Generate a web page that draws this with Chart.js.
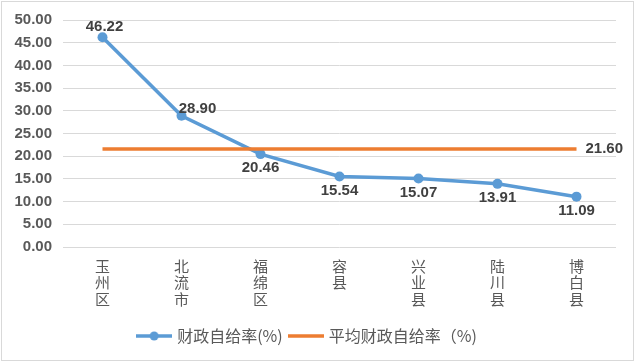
<!DOCTYPE html>
<html>
<head>
<meta charset="utf-8">
<script src="https://cdn.jsdelivr.net/npm/chart.js@4.4.1/dist/chart.umd.min.js"></script>
<style>
  html, body { margin: 0; padding: 0; background: #fff; }
  #wrap { width: 635px; height: 362px; position: relative; }
</style>
</head>
<body>
<div id="wrap"><canvas id="chart" width="635" height="362"></canvas></div>
<script>
// ---- data ----
const categories = [['玉','州','区'], ['北','流','市'], ['福','绵','区'], ['容','县'], ['兴','业','县'], ['陆','川','县'], ['博','白','县']];
const selfRate = [46.22, 28.90, 20.46, 15.54, 15.07, 13.91, 11.09];
const avgRate = [21.60, 21.60, 21.60, 21.60, 21.60, 21.60, 21.60];
const seriesNames = ['财政自给率(%)', '平均财政自给率（%)'];
const yMin = 0, yMax = 50, yStep = 5;

// where each value label sits relative to its point
const labelPlace = ['above', 'right', 'below', 'below', 'below', 'below', 'below'];

const BLUE = '#5B9BD5';
const ORANGE = '#ED7D31';
const NUM_FONT = 'bold 15px "Liberation Sans", Arial, sans-serif';

// legend markers: a short line, optionally with a dot in the middle
function makeMarker(color, withDot) {
    const c = document.createElement('canvas');
    c.width = 36; c.height = 12;
    const g = c.getContext('2d');
    g.strokeStyle = color; g.lineWidth = 3.5;
    g.beginPath(); g.moveTo(0, 6); g.lineTo(36, 6); g.stroke();
    if (withDot) {
        g.fillStyle = color;
        g.beginPath(); g.arc(18, 6, 4.5, 0, Math.PI * 2); g.fill();
    }
    return c;
}
const blueMarker = makeMarker(BLUE, true);
const orangeMarker = makeMarker(ORANGE, false);

// value labels + frame
const labelPlugin = {
    id: 'valueLabels',
    beforeDraw(chart) {
        const ctx = chart.ctx;
        ctx.save();
        ctx.fillStyle = '#fff';
        ctx.fillRect(0, 0, chart.width, chart.height);
        ctx.strokeStyle = '#d9d9d9';
        ctx.lineWidth = 1;
        ctx.strokeRect(1.5, 1.5, chart.width - 3, chart.height - 3);
        ctx.restore();
    },
    afterDatasetsDraw(chart) {
        const ctx = chart.ctx;
        ctx.save();
        ctx.font = NUM_FONT;
        ctx.fillStyle = '#404040';
        ctx.textAlign = 'center';
        ctx.textBaseline = 'middle';

        chart.getDatasetMeta(0).data.forEach((pt, i) => {
            let x = pt.x, y = pt.y;
            const p = labelPlace[i];
            if (p === 'above') { x += 2; y -= 10; }
            else if (p === 'right') { x += 16; y -= 7; }
            else { y += 14; }
            ctx.fillText(selfRate[i].toFixed(2), x, y);
        });

        const avgMeta = chart.getDatasetMeta(1).data;
        const last = avgMeta[avgMeta.length - 1];
        ctx.textAlign = 'left';
        ctx.fillText(avgRate[avgRate.length - 1].toFixed(2), last.x + 9, last.y);
        ctx.restore();
    }
};

new Chart(document.getElementById('chart'), {
    type: 'line',
    data: {
        labels: categories,
        datasets: [
            {
                label: seriesNames[0],
                data: selfRate,
                borderColor: BLUE,
                backgroundColor: BLUE,
                borderWidth: 3.5,
                pointRadius: 5,
                pointBackgroundColor: BLUE,
                pointBorderWidth: 0,
                tension: 0,
                order: 1
            },
            {
                label: seriesNames[1],
                data: avgRate,
                borderColor: ORANGE,
                backgroundColor: ORANGE,
                borderWidth: 3.5,
                pointRadius: 0,
                tension: 0,
                order: 0
            }
        ]
    },
    options: {
        responsive: false,
        animation: false,
        devicePixelRatio: 1,
        layout: { padding: { top: 19, right: 19, left: 0, bottom: 8 } },
        scales: {
            x: {
                offset: true,
                grid: { display: false, drawTicks: false },
                border: { display: false },
                ticks: {
                    color: '#595959',
                    font: { family: '"Noto Sans CJK SC", sans-serif', size: 15, lineHeight: 1.1 },
                    padding: 11,
                    maxRotation: 0,
                    autoSkip: false
                },
                afterFit(scale) { scale.height = 73; }
            },
            y: {
                min: yMin,
                max: yMax,
                grid: { color: '#d9d9d9', drawTicks: false },
                border: { display: false },
                ticks: {
                    stepSize: yStep,
                    color: '#595959',
                    font: { family: '"Liberation Sans", Arial, sans-serif', size: 15, weight: 'bold' },
                    padding: 11,
                    callback: v => v.toFixed(2)
                },
                afterFit(scale) { scale.width = 63; }
            }
        },
        plugins: {
            tooltip: { enabled: false },
            legend: {
                position: 'bottom',
                labels: {
                    usePointStyle: true,
                    pointStyleWidth: 30,
                    color: '#595959',
                    padding: 8,
                    font: { family: '"Noto Sans CJK SC", sans-serif', size: 16, lineHeight: 1.2 },
                    generateLabels() {
                        return [
                            { text: seriesNames[0], pointStyle: blueMarker, fillStyle: BLUE, strokeStyle: BLUE, lineWidth: 0, datasetIndex: 0, hidden: false, fontColor: '#595959' },
                            { text: seriesNames[1], pointStyle: orangeMarker, fillStyle: ORANGE, strokeStyle: ORANGE, lineWidth: 0, datasetIndex: 1, hidden: false, fontColor: '#595959' }
                        ];
                    }
                }
            }
        }
    },
    plugins: [labelPlugin]
});
</script>
</body>
</html>
